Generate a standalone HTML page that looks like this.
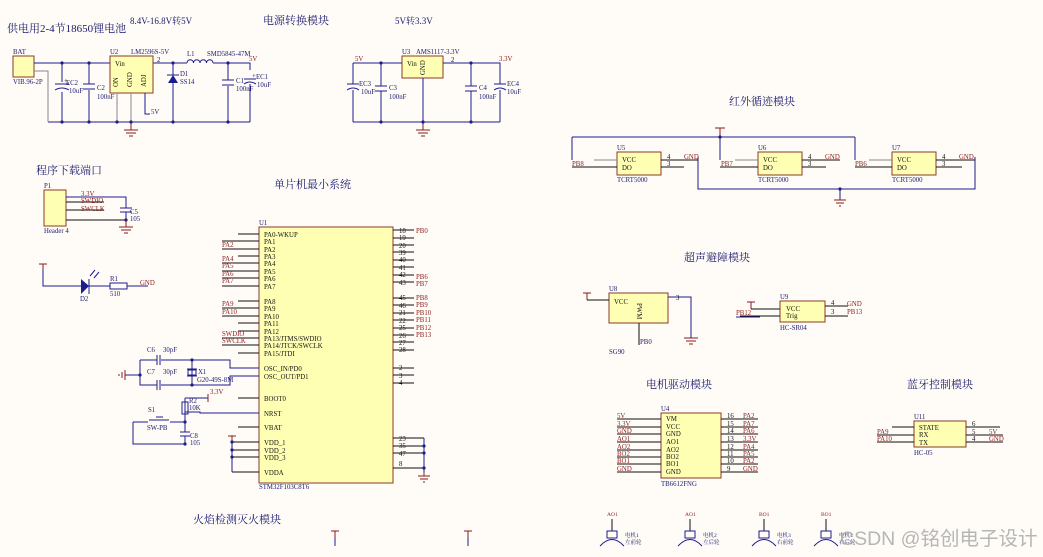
<!DOCTYPE html>
<html><head><meta charset="utf-8"><style>
html,body{margin:0;padding:0;background:#fffcf7;}
svg{display:block}
text{font-family:"Liberation Serif","Noto Serif CJK SC",serif;}
.t{font-size:11px;fill:#1a1a6e;font-family:"Liberation Serif","Noto Serif CJK SC",serif;}
.s{font-size:6.8px;fill:#1a1a6e}
.r{font-size:6.8px;fill:#8b1a1a}
.k{font-size:6.8px;fill:#111}
.w{stroke:#1c1c8c;stroke-width:1;fill:none}
.p{stroke:#111;stroke-width:1;fill:none}
.g{stroke:#888;stroke-width:1;fill:none}
.box{fill:#ffffb4;stroke:#8b3a2a;stroke-width:1}
.rd{stroke:#8b1a1a;stroke-width:1;fill:none}
.d{fill:#1c1c8c}
</style></head><body>
<svg width="1043" height="557" viewBox="0 0 1043 557" xmlns="http://www.w3.org/2000/svg">
<rect width="1043" height="557" fill="#fffcf7"/>
<text class="t" x="7" y="32">供电用2-4节18650锂电池</text>
<text class="t" x="130" y="24" style="font-size:9px">8.4V-16.8V转5V</text>
<text class="t" x="263" y="24">电源转换模块</text>
<text class="t" x="395" y="24" style="font-size:9px">5V转3.3V</text>

<rect class="box" x="13" y="56" width="21" height="21"/>
<text class="s" x="13" y="54">BAT</text><text class="s" x="13" y="84">VIB.96-2P</text>
<path class="w" d="M34 63H110M153 63H187M213 63H250V70M48 122H250"/>
<path class="g" d="M34 71H48V122"/>
<path class="w" d="M62 63V82M62 92V122M89 63V84M89 90V122M173 63V122M228 63V80M228 86V122M250 84V122"/>
<path class="w" d="M55 84H69M55 90Q62 86 69 90M83 84H95M83 89H95M222 80H234M222 85H234M244 79H256M244 84Q250 80 256 84"/>
<text class="k" x="64" y="83">+</text><text class="s" x="66" y="85">EC2</text><text class="s" x="69" y="93">10uF</text>
<text class="s" x="97" y="90">C2</text><text class="s" x="97" y="99">100nF</text>
<text class="s" x="236" y="83">C1</text><text class="s" x="236" y="91">100nF</text>
<text class="k" x="252" y="78">+</text><text class="s" x="256" y="79">EC1</text><text class="s" x="257" y="87">10uF</text>
<rect class="box" x="110" y="56" width="43" height="37"/>
<text class="s" x="110" y="54">U2</text><text class="s" x="131" y="54">LM2596S-5V</text><text class="k" x="157" y="62">2</text>
<text class="k" x="115" y="66">Vin</text>
<text class="k" transform="translate(118,87) rotate(-90)">ON</text>
<text class="k" transform="translate(132,87) rotate(-90)">GND</text>
<text class="k" transform="translate(146,87) rotate(-90)">ADJ</text>
<path class="g" d="M117 93V122M131 93V122"/><path class="w" d="M145 93V114H150"/>
<text class="s" x="151" y="114">5V</text>
<path class="rd" d="M131 122V130M124 130H138M126 133H136M129 136H133"/>
<path d="M168 83H178L173 75Z" fill="#1c1c8c"/><path class="w" d="M167 75H179"/>
<text class="s" x="180" y="76">D1</text><text class="s" x="180" y="84">SS14</text>
<path class="w" d="M187 63a3.2 3.2 0 0 1 6.5 0a3.2 3.2 0 0 1 6.5 0a3.2 3.2 0 0 1 6.5 0a3.2 3.2 0 0 1 6.5 0"/>
<text class="s" x="187" y="56">L1</text><text class="s" x="207" y="56">SMD5845-47M</text>
<text class="r" x="249" y="61">5V</text>
<g class="d"><circle cx="62" cy="63" r="1.6"/><circle cx="89" cy="63" r="1.6"/><circle cx="173" cy="63" r="1.6"/><circle cx="228" cy="63" r="1.6"/><circle cx="62" cy="122" r="1.6"/><circle cx="89" cy="122" r="1.6"/><circle cx="117" cy="122" r="1.6"/><circle cx="131" cy="122" r="1.6"/><circle cx="173" cy="122" r="1.6"/><circle cx="228" cy="122" r="1.6"/></g>

<rect class="box" x="402" y="56" width="41" height="22"/>
<text class="s" x="402" y="54">U3</text><text class="s" x="416" y="54">AMS1117-3.3V</text><text class="k" x="451" y="62">2</text>
<text class="k" x="407" y="66">Vin</text><text class="k" transform="translate(425,75) rotate(-90)">GND</text>
<path class="w" d="M353 63H402M443 63H500V84M353 63V84M353 90V122M381 63V86M381 91V122M471 63V86M471 91V122M500 90V122M423 78V122M353 122H500"/>
<path class="w" d="M347 84H359M347 90Q353 86 359 90M375 86H387M375 91H387M465 86H477M465 91H477M494 84H506M494 90Q500 86 506 90"/>
<text class="r" x="355" y="61">5V</text><text class="r" x="499" y="61">3.3V</text>
<text class="s" x="359" y="86">EC3</text><text class="s" x="361" y="94">10uF</text>
<text class="s" x="389" y="90">C3</text><text class="s" x="389" y="99">100nF</text>
<text class="s" x="479" y="90">C4</text><text class="s" x="479" y="99">100nF</text>
<text class="s" x="507" y="86">EC4</text><text class="s" x="507" y="94">10uF</text>
<path class="rd" d="M423 122V130M416 130H430M418 133H428M421 136H425"/>
<g class="d"><circle cx="381" cy="63" r="1.6"/><circle cx="471" cy="63" r="1.6"/><circle cx="381" cy="122" r="1.6"/><circle cx="423" cy="122" r="1.6"/><circle cx="471" cy="122" r="1.6"/></g>

<text class="t" x="36" y="174">程序下载端口</text>
<rect class="box" x="44" y="190" width="22" height="36"/>
<text class="s" x="44" y="188">P1</text><text class="s" x="44" y="233">Header 4</text>
<path class="w" d="M66 197H126V208M126 212V220"/><path class="p" d="M66 202H104M66 210H104M66 220H126"/>
<text class="r" x="81" y="196">3.3V</text><text class="r" x="81" y="203">SWDIO</text><text class="r" x="81" y="211">SWCLK</text>
<path class="w" d="M120 208H132M120 212H132"/><text class="s" x="130" y="214">C5</text><text class="s" x="130" y="221">105</text>
<circle cx="126" cy="220" r="1.6" class="d"/>
<path class="rd" d="M126 220V227M119 227H133M121 230H131M124 233H128"/>
<path class="rd" d="M39 264H47M43 264V270"/><path class="w" d="M43 270V286H110M127 286H148"/>
<path d="M81 279V294L89 286Z" fill="#1c1c8c"/><path class="w" d="M89 279V294M90 276L95 270M94 278L99 272"/>
<rect x="110" y="283" width="17" height="6" fill="none" stroke="#1c1c8c"/>
<text class="s" x="80" y="301">D2</text><text class="s" x="110" y="281">R1</text><text class="s" x="110" y="296">510</text>
<text class="r" x="140" y="285">GND</text>

<text class="t" x="274" y="188">单片机最小系统</text>
<rect class="box" x="259" y="227" width="134" height="256"/>
<text class="s" x="259" y="225">U1</text><text class="s" x="259" y="489">STM32F103C8T6</text>
<g class="p">
<path d="M238 234H259M222 241H259M222 249H259M238 256H259M222 263H259M222 271H259M222 278H259M222 286H259M238 301H259M222 308H259M222 316H259M238 323H259M238 331H259M222 338H259M222 345H259M238 353H259M238 398H259M238 413H259M238 427H259M232 442H259M232 450H259M232 457H259M232 472H259"/>
<path d="M393 230H414M393 238H414M393 245H414M393 252H414M393 260H414M393 267H414M393 275H414M393 282H414M393 298H414M393 305H414M393 313H414M393 320H414M393 328H414M393 335H414M393 342H414M393 350H414M393 368H414M393 375H414M393 383H414M393 438H424M393 446H424M393 453H424M393 468H424"/>
</g>
<g class="k">
<text x="264" y="237">PA0-WKUP</text><text x="264" y="244">PA1</text><text x="264" y="252">PA2</text><text x="264" y="259">PA3</text><text x="264" y="266">PA4</text><text x="264" y="274">PA5</text><text x="264" y="281">PA6</text><text x="264" y="289">PA7</text><text x="264" y="304">PA8</text><text x="264" y="311">PA9</text><text x="264" y="319">PA10</text><text x="264" y="326">PA11</text><text x="264" y="334">PA12</text><text x="264" y="341">PA13/JTMS/SWDIO</text><text x="264" y="348">PA14/JTCK/SWCLK</text><text x="264" y="356">PA15/JTDI</text><text x="264" y="371">OSC_IN/PD0</text><text x="264" y="379">OSC_OUT/PD1</text><text x="264" y="401">BOOT0</text><text x="264" y="416">NRST</text><text x="264" y="430">VBAT</text><text x="264" y="445">VDD_1</text><text x="264" y="453">VDD_2</text><text x="264" y="460">VDD_3</text><text x="264" y="475">VDDA</text>
<text x="399" y="233">18</text><text x="399" y="240">19</text><text x="399" y="248">20</text><text x="399" y="255">39</text><text x="399" y="262">40</text><text x="399" y="270">41</text><text x="399" y="277">42</text><text x="399" y="285">43</text><text x="399" y="300">45</text><text x="399" y="308">46</text><text x="399" y="315">21</text><text x="399" y="323">22</text><text x="399" y="330">25</text><text x="399" y="338">26</text><text x="399" y="345">27</text><text x="399" y="352">28</text><text x="399" y="370">2</text><text x="399" y="378">3</text><text x="399" y="385">4</text><text x="399" y="441">23</text><text x="399" y="448">35</text><text x="399" y="456">47</text><text x="399" y="466">8</text>
</g>
<g class="r">
<text x="416" y="233">PB0</text><text x="416" y="279">PB6</text><text x="416" y="286">PB7</text><text x="416" y="300">PB8</text><text x="416" y="307">PB9</text><text x="416" y="315">PB10</text><text x="416" y="322">PB11</text><text x="416" y="330">PB12</text><text x="416" y="337">PB13</text>
<text x="222" y="247">PA2</text><text x="222" y="261">PA4</text><text x="222" y="268">PA5</text><text x="222" y="276">PA6</text><text x="222" y="283">PA7</text><text x="222" y="306">PA9</text><text x="222" y="314">PA10</text><text x="222" y="336">SWDIO</text><text x="222" y="343">SWCLK</text>
</g>
<path class="w" d="M424 438V472M232 442V472"/>
<path class="rd" d="M228 436H236M232 436V442M424 472V476M418 476H430M420 479H428M423 482H425"/>
<g class="d"><circle cx="424" cy="446" r="1.6"/><circle cx="424" cy="453" r="1.6"/><circle cx="424" cy="468" r="1.6"/><circle cx="232" cy="442" r="1.6"/><circle cx="232" cy="450" r="1.6"/><circle cx="232" cy="457" r="1.6"/></g>
<path class="w" d="M140 360H157M161 360H230V368H259M140 375V385H157M161 385H230V376H259M140 360V385M125 375H140M192 360V385"/>
<path class="w" d="M157 355V365M160 355V365M157 380V390M160 380V390M187 369H197M187 376H197"/><rect x="188" y="370" width="8" height="5" fill="none" stroke="#1c1c8c"/>
<path class="rd" d="M125 370V380M122 372V378M119 374V376"/>
<g class="d"><circle cx="140" cy="375" r="1.6"/><circle cx="192" cy="360" r="1.6"/><circle cx="192" cy="385" r="1.6"/></g>
<text class="s" x="147" y="352">C6</text><text class="s" x="163" y="352">30pF</text><text class="s" x="147" y="374">C7</text><text class="s" x="163" y="374">30pF</text><text class="s" x="198" y="374">X1</text><text class="s" x="197" y="382">G20-49S-8M</text>
<path class="w" d="M185 398V420M185 398H208M185 420V432M185 436V444M133 422V444H185M133 422H148M170 422H185M185 412H200V413H259"/>
<rect x="182" y="402" width="6" height="12" fill="none" stroke="#1c1c8c"/>
<path class="rd" d="M208 394V402"/>
<path class="w" d="M149 420H169M156 417H163M180 432H190M180 436H190"/>
<text class="r" x="210" y="394">3.3V</text><text class="s" x="189" y="403">R2</text><text class="s" x="189" y="410">10K</text>
<text class="s" x="148" y="412">S1</text><text class="s" x="147" y="430">SW-PB</text><text class="s" x="190" y="438">C8</text><text class="s" x="190" y="445">105</text>
<g class="d"><circle cx="185" cy="422" r="1.6"/><circle cx="185" cy="444" r="1.6"/></g>

<text class="t" x="729" y="105">红外循迹模块</text>
<path class="w" d="M572 137H855M572 137V160M720 137V160M855 137V160M698 157V189H975V157M840 189V200"/>
<path class="rd" d="M715 128H725M720 128V137M834 200H846M836 203H844M839 206H841"/>
<circle cx="720" cy="137" r="1.6" class="d"/><circle cx="840" cy="189" r="1.6" class="d"/>
<rect class="box" x="617" y="152" width="44" height="23"/><rect class="box" x="758" y="152" width="44" height="23"/><rect class="box" x="892" y="152" width="44" height="23"/>
<path class="g" d="M594 160H617M735 160H758M869 160H892"/>
<path class="p" d="M572 167H617M661 160H698M661 167H684M720 167H758M802 160H840M802 167H826M855 167H892M936 160H975M936 167H962"/>
<g class="s"><text x="617" y="150">U5</text><text x="758" y="150">U6</text><text x="892" y="150">U7</text>
<text x="617" y="182">TCRT5000</text><text x="758" y="182">TCRT5000</text><text x="892" y="182">TCRT5000</text></g>
<g class="k"><text x="622" y="162">VCC</text><text x="622" y="170">DO</text><text x="763" y="162">VCC</text><text x="763" y="170">DO</text><text x="897" y="162">VCC</text><text x="897" y="170">DO</text>
<text x="667" y="159">4</text><text x="667" y="166">3</text><text x="808" y="159">4</text><text x="808" y="166">3</text><text x="942" y="159">4</text><text x="942" y="166">3</text></g>
<g class="r"><text x="572" y="166">PB8</text><text x="721" y="166">PB7</text><text x="855" y="166">PB6</text><text x="684" y="159">GND</text><text x="825" y="159">GND</text><text x="959" y="159">GND</text></g>

<text class="t" x="684" y="261">超声避障模块</text>
<rect class="box" x="609" y="293" width="59" height="30"/>
<path class="rd" d="M583 293H591M587 293V300M684 338H698M686 341H696M689 344H693M747 302H755M751 302V309"/>
<path class="p" d="M587 300H609M639 323V345"/><path class="w" d="M668 297H691V338"/>
<text class="s" x="609" y="291">U8</text><text class="k" x="614" y="304">VCC</text><text class="k" transform="translate(637,303) rotate(90)">PWM</text><text class="k" x="676" y="300">3</text>
<text class="s" x="640" y="344">PB0</text><text class="s" x="609" y="354">SG90</text>
<rect class="box" x="780" y="301" width="45" height="21"/>
<path class="p" d="M751 309H780M740 316H780M825 306H848M825 316H848"/><path class="w" d="M736 317H760"/>
<text class="s" x="780" y="299">U9</text><text class="k" x="786" y="311">VCC</text><text class="k" x="786" y="318">Trig</text><text class="k" x="831" y="305">4</text><text class="k" x="831" y="314">3</text>
<text class="r" x="736" y="315">PB12</text><text class="r" x="847" y="306">GND</text><text class="r" x="847" y="314">PB13</text><text class="s" x="780" y="330">HC-SR04</text>

<text class="t" x="646" y="388">电机驱动模块</text>
<rect class="box" x="661" y="413" width="60" height="65"/>
<path class="p" d="M617 419H661M617 427H661M617 434H661M617 442H661M617 450H661M617 457H661M617 464H661M617 472H661M721 419H758M721 427H758M721 434H758M721 442H758M721 450H758M721 457H758M721 464H758M721 472H758"/>
<text class="s" x="661" y="411">U4</text><text class="s" x="661" y="486">TB6612FNG</text>
<g class="k"><text x="666" y="421">VM</text><text x="666" y="429">VCC</text><text x="666" y="436">GND</text><text x="666" y="444">AO1</text><text x="666" y="452">AO2</text><text x="666" y="459">BO2</text><text x="666" y="466">BO1</text><text x="666" y="474">GND</text>
<text x="727" y="418">16</text><text x="727" y="426">15</text><text x="727" y="433">14</text><text x="727" y="441">13</text><text x="727" y="449">12</text><text x="727" y="456">11</text><text x="727" y="463">10</text><text x="727" y="471">9</text></g>
<g class="r"><text x="617" y="418">5V</text><text x="617" y="426">3.3V</text><text x="617" y="433">GND</text><text x="617" y="441">AO1</text><text x="617" y="449">AO2</text><text x="617" y="456">BO2</text><text x="617" y="463">BO1</text><text x="617" y="471">GND</text>
<text x="743" y="418">PA2</text><text x="743" y="426">PA7</text><text x="743" y="433">PA6</text><text x="743" y="441">3.3V</text><text x="743" y="449">PA4</text><text x="743" y="456">PA5</text><text x="743" y="463">PA2</text><text x="743" y="471">GND</text></g>

<text class="t" x="907" y="388">蓝牙控制模块</text>
<rect class="box" x="914" y="421" width="52" height="26"/>
<path class="p" d="M892 427H914M877 435H914M877 442H914M966 427H1000M966 435H1003M966 442H1003"/>
<text class="s" x="914" y="419">U11</text><text class="s" x="914" y="455">HC-05</text>
<g class="k"><text x="919" y="430">STATE</text><text x="919" y="437">RX</text><text x="919" y="445">TX</text><text x="972" y="426">6</text><text x="972" y="434">5</text><text x="972" y="441">4</text></g>
<g class="r"><text x="877" y="434">PA9</text><text x="877" y="441">PA10</text><text x="989" y="434">5V</text><text x="989" y="441">GND</text></g>

<text class="t" x="193" y="523">火焰检测灭火模块</text>
<path class="rd" d="M331 531H339M335 531V537M464 531H472M468 531V537"/><path class="w" d="M335 537V546M468 537V546"/>
<path class="p" d="M612 519V531M690 519V531M764 519V531M826 519V531"/>
<rect x="607" y="531" width="10" height="7" fill="none" stroke="#1c1c8c"/><rect x="685" y="531" width="10" height="7" fill="none" stroke="#1c1c8c"/><rect x="759" y="531" width="10" height="7" fill="none" stroke="#1c1c8c"/><rect x="821" y="531" width="10" height="7" fill="none" stroke="#1c1c8c"/>
<path class="w" d="M600 546Q612 533 624 546M678 546Q690 533 702 546M752 546Q764 533 776 546M814 546Q826 533 838 546"/>
<g class="r" style="font-size:5.5px"><text x="607" y="516">AO1</text><text x="685" y="516">AO1</text><text x="759" y="516">BO1</text><text x="821" y="516">BO1</text></g>
<g class="s" style="font-size:5.5px"><text x="625" y="537">电机1</text><text x="625" y="544">左前轮</text><text x="703" y="537">电机2</text><text x="703" y="544">左后轮</text><text x="777" y="537">电机3</text><text x="777" y="544">右前轮</text><text x="839" y="537">电机4</text><text x="839" y="544">右后轮</text></g>
<text x="840" y="545" style="font-family:'Liberation Sans','Noto Sans CJK SC',sans-serif;font-size:19.5px;fill:#aaa;opacity:0.85">CSDN @铭创电子设计</text>
</svg>
</body></html>
